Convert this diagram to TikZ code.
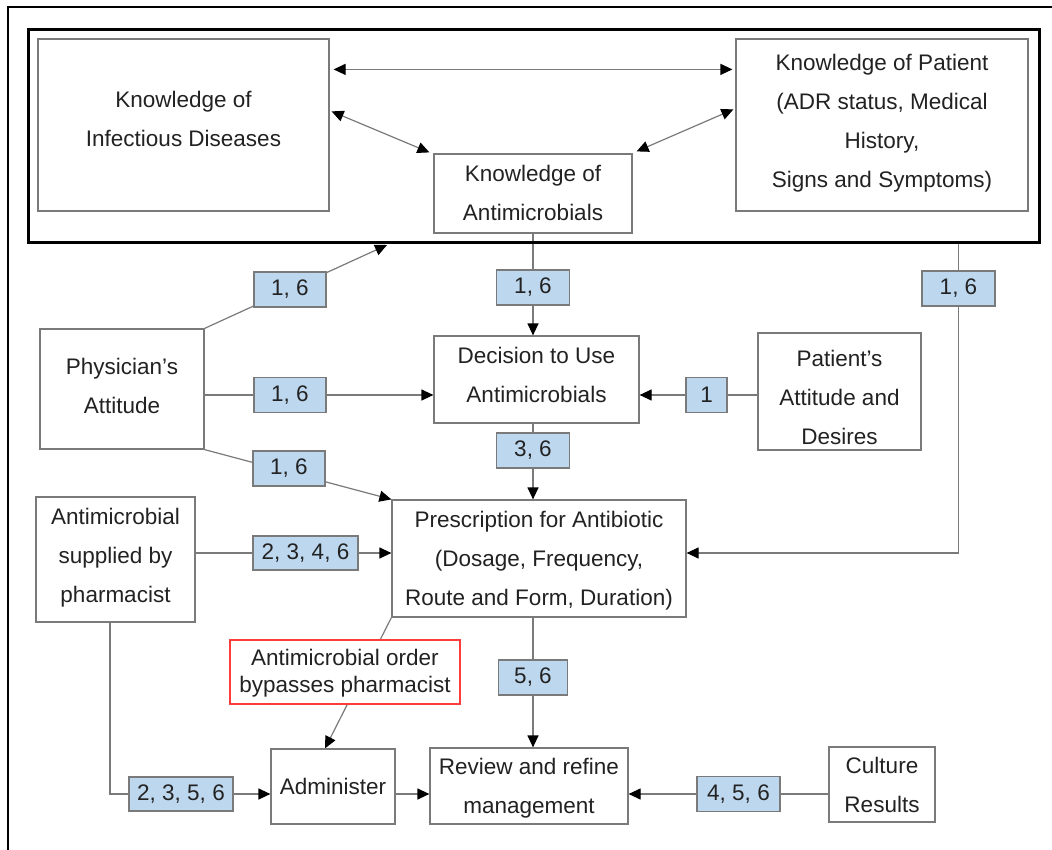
\documentclass[tikz,border=0pt]{standalone}
\usepackage{fontspec}
\setmainfont{Liberation Sans}
\usetikzlibrary{arrows.meta,backgrounds}
\definecolor{edge}{HTML}{7A7A7A}
\definecolor{tagfill}{HTML}{BDD7EE}
\definecolor{txt}{HTML}{222222}
\definecolor{alert}{HTML}{FF3B3B}
\begin{document}
\begin{tikzpicture}[x=1pt,y=-1pt,
  box/.style={draw=edge,line width=1.2pt,fill=white,inner sep=0pt},
  tx/.style={align=center,text=txt,inner sep=0pt,font=\fontsize{22.5}{39}\selectfont},
  tag/.style={draw=edge,line width=1.2pt,fill=tagfill,text=txt,inner sep=0pt,
    font=\fontsize{22.5}{26}\selectfont},
  link/.style={draw=edge,line width=1.2pt},
  arr/.style={link,-{Triangle[length=12pt,width=11pt,color=black]}},
  biarr/.style={link,{Triangle[length=12pt,width=11pt,color=black]}-{Triangle[length=12pt,width=11pt,color=black]}},
]
\useasboundingbox (0,0) rectangle (1052,850);

% page frame
\draw[black,line width=1.5pt] (8,850) -- (8,7) -- (1052,7);

% knowledge group
\node[draw=black,line width=3pt,minimum width=1011pt,minimum height=213pt,inner sep=0pt] (know) at (533.5,136.5) {};
\node[box,minimum width=291pt,minimum height=172pt,
  label={[tx,yshift=6pt]center:{Knowledge of\\Infectious Diseases}}] (kid) at (183.5,125) {};
\node[box,minimum width=292pt,minimum height=172pt,
  label={[tx,yshift=2pt]center:{Knowledge of Patient\\(ADR status, Medical\\History,\\Signs and Symptoms)}}] (kp) at (882,125) {};
\node[box,minimum width=198pt,minimum height=79pt,
  label={[tx,yshift=1pt]center:{Knowledge of\\Antimicrobials}}] (ka) at (533,193.5) {};

% decision and prescription stages
\node[box,minimum width=164pt,minimum height=120pt,
  label={[tx,yshift=3pt]center:{Physician’s\\Attitude}}] (phys) at (122,389) {};
\node[box,minimum width=205pt,minimum height=87pt,
  label={[tx,yshift=4.5pt]center:{Decision to Use\\Antimicrobials}}] (dec) at (536.5,379.5) {};
\node[box,minimum width=163pt,minimum height=117pt,
  label={[tx,yshift=-6pt]center:{Patient’s\\Attitude and\\Desires}}] (pat) at (839.5,391.5) {};
\node[box,minimum width=294pt,minimum height=117pt,
  label={[tx,yshift=-2pt]center:{Prescription for Antibiotic\\(Dosage, Frequency,\\Route and Form, Duration)}}] (pres) at (539,558.5) {};
\node[box,minimum width=159pt,minimum height=125pt,
  label={[tx,yshift=2pt]center:{Antimicrobial\\supplied by\\pharmacist}}] (pharm) at (115.5,559.5) {};
\node[box,draw=alert,minimum width=230pt,minimum height=64pt,
  label={[tx,font=\fontsize{22.5}{27}\selectfont,yshift=-1pt]center:{Antimicrobial order\\bypasses pharmacist}}] (red) at (345,672) {};
\node[box,minimum width=124pt,minimum height=75pt,
  label={[tx]center:{Administer}}] (adm) at (333,786.5) {};
\node[box,minimum width=198pt,minimum height=76pt,
  label={[tx,yshift=-2pt]center:{Review and refine\\management}}] (rev) at (529,786) {};
\node[box,minimum width=106pt,minimum height=75pt,
  label={[tx]center:{Culture\\Results}}] (cul) at (882,784.5) {};

% evidence tags
\node[tag,minimum width=72pt,minimum height=35pt] (L1) at (290,289.5) {1, 6};
\node[tag,minimum width=73pt,minimum height=35pt] (L2) at (533,287.5) {1, 6};
\node[tag,minimum width=73pt,minimum height=35pt] (L3) at (958.5,288.5) {1, 6};
\node[tag,minimum width=72pt,minimum height=35pt] (L4) at (290,395) {1, 6};
\node[tag,minimum width=41pt,minimum height=35pt] (L5) at (706.5,395) {1};
\node[tag,minimum width=72pt,minimum height=35pt] (L6) at (289,468.5) {1, 6};
\node[tag,minimum width=73pt,minimum height=35pt] (L7) at (533,450.5) {3, 6};
\node[tag,minimum width=105pt,minimum height=34pt] (L8) at (305.5,553) {2, 3, 4, 6};
\node[tag,minimum width=69pt,minimum height=35pt] (L9) at (533,677.5) {5, 6};
\node[tag,minimum width=104pt,minimum height=34pt] (L10) at (181,794) {2, 3, 5, 6};
\node[tag,minimum width=83pt,minimum height=35pt] (L11) at (738.5,794) {4, 5, 6};

\coordinate (t1) at (387,245);

\begin{pgfonlayer}{background}
  \fill[white] (0,0) rectangle (1052,850);
  \draw[biarr] ([shift={(4,31)}]kid.north east) -- ([shift={(-3,31)}]kp.north west);
  \draw[biarr] ([shift={(2,73)}]kid.north east) -- ([shift={(-4,-1)}]ka.north west);
  \draw[biarr] ([shift={(4,-2)}]ka.north east) -- ([shift={(-2,71)}]kp.north west);
  \draw[arr] (phys.north east) -- (t1);
  \draw[arr] (ka.south) -- (ka.south |- dec.north);
  \draw[arr] (know.south -| L3) |- (L8 -| pres.east);
  \draw[arr] (phys.east |- L4) -- (L4 -| dec.west);
  \draw[arr] (pat.west |- L5) -- (L5 -| dec.east);
  \draw[arr] (phys.south east) -- (pres.north west);
  \draw[arr] (dec.south -| L7) -- (L7 |- pres.north);
  \draw[arr] (pharm.east |- L8) -- (L8 -| pres.west);
  \draw[arr] (pres.south west) -- ([xshift=-8pt]adm.north);
  \draw[arr] (pres.south -| L9) -- (L9 |- rev.north);
  \draw[arr] ([xshift=-5.5pt]pharm.south) |- (L10 -| adm.west);
  \draw[arr] (adm.east |- L10) -- (L10 -| rev.west);
  \draw[arr] (cul.west |- L11) -- (L11 -| rev.east);
\end{pgfonlayer}
\end{tikzpicture}
\end{document}
